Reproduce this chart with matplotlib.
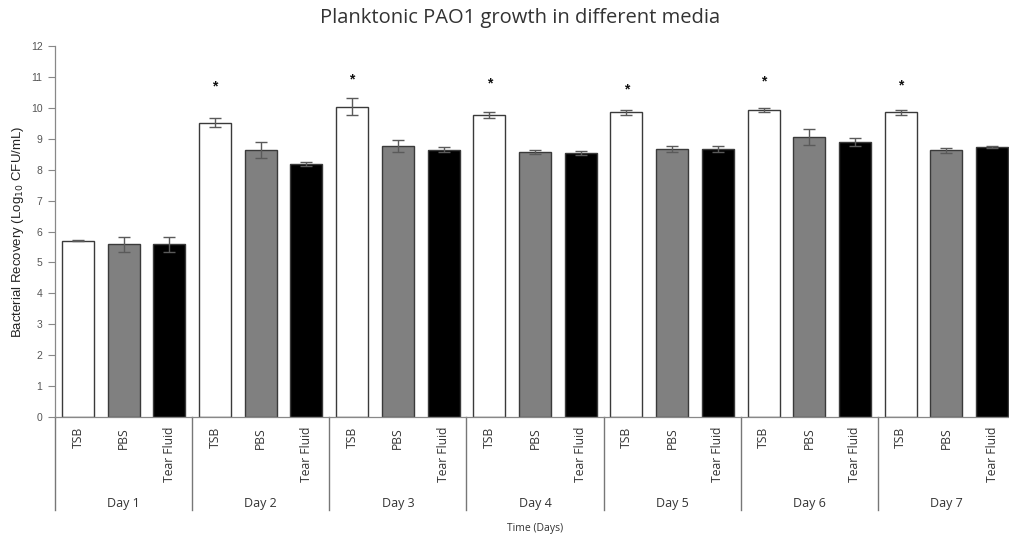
import matplotlib
matplotlib.use("Agg")
import matplotlib.pyplot as plt
import matplotlib.transforms as mtransforms

# Planktonic PAO1 recovery (log10 CFU/mL) per day and medium
days = ["Day 1", "Day 2", "Day 3", "Day 4", "Day 5", "Day 6", "Day 7"]
media = ["TSB", "PBS", "Tear Fluid"]
tsb = [5.70, 9.52, 10.04, 9.76, 9.85, 9.94, 9.85]
pbs = [5.58, 8.63, 8.77, 8.57, 8.66, 9.06, 8.62]
tear = [5.58, 8.18, 8.65, 8.54, 8.66, 8.88, 8.73]
tsb_err = [0.02, 0.15, 0.27, 0.10, 0.07, 0.06, 0.08]
pbs_err = [0.24, 0.26, 0.20, 0.05, 0.10, 0.25, 0.08]
tear_err = [0.23, 0.07, 0.08, 0.05, 0.10, 0.13, 0.03]
# heights of the significance asterisks above the TSB bars
star_y = [None, 10.80, 11.03, 10.90, 10.69, 10.94, 10.82]

fills = ["white", "#808080", "black"]
W, H = 1009, 542
fig = plt.figure(figsize=(W / 100, H / 100), dpi=100)
ax = fig.add_axes([55 / W, (H - 417) / H, (1015 - 55) / W, (417 - 46) / H])

series = [(tsb, tsb_err), (pbs, pbs_err), (tear, tear_err)]
for m, (vals, errs) in enumerate(series):
    xs = [d * 3 + m + 0.5 for d in range(len(days))]
    ax.bar(xs, vals, width=0.7, color=fills[m], edgecolor="#3a3a3a",
           linewidth=1.0, zorder=2)
    ax.errorbar(xs, vals, yerr=errs, fmt="none", ecolor="#5a5a5a",
                elinewidth=1.0, capsize=4, capthick=1.0, zorder=3)

for d, sy in enumerate(star_y):
    if sy is not None:
        ax.text(d * 3 + 0.5, sy - 0.1, "*", ha="center", va="center",
                fontsize=10, fontweight="bold", color="#111111",
                family="Liberation Sans")

ax.set_xlim(0, 3 * len(days))
ax.set_ylim(0, 12)
ax.set_yticks(range(0, 13))
ax.tick_params(axis="y", direction="out", length=5, width=0.8,
               color="#888888", labelcolor="#555555", labelsize=7.5, pad=4)
for lab in ax.get_yticklabels():
    lab.set_fontfamily("Liberation Sans")
ax.set_xticks([])
for s in ["top", "right"]:
    ax.spines[s].set_visible(False)
ax.spines["left"].set_color("#888888")
ax.spines["bottom"].set_color("#888888")
ax.spines["left"].set_linewidth(0.9)
ax.spines["bottom"].set_linewidth(0.9)

trans = mtransforms.blended_transform_factory(ax.transData, ax.transAxes)
bottom = -(510 - 417) / (417 - 46)
for d in range(len(days) + 1):
    ax.plot([d * 3, d * 3], [0, bottom], transform=trans, color="#777777",
            linewidth=1.0, clip_on=False)

lab_top = -(427 - 417) / (417 - 46)
day_y = -(503 - 417) / (417 - 46)
for d, day in enumerate(days):
    for m, name in enumerate(media):
        ax.text(d * 3 + m + 0.5, lab_top, name, transform=trans, rotation=90,
                ha="center", va="top", fontsize=8.7, color="#333333",
                family="Open Sans")
    ax.text(d * 3 + 1.5, day_y, day, transform=trans, ha="center",
            va="center", fontsize=9, color="#333333", family="Open Sans")

ax.text(0.5, -(528 - 417) / (417 - 46), "Time (Days)", transform=ax.transAxes,
        ha="center", va="center", fontsize=7.5, color="#333333",
        family="Open Sans")

fig.text(18 / W, 1 - 232 / H, "Bacterial Recovery (Log$_{10}$ CFU/mL)",
         rotation=90, ha="center", va="center", fontsize=9.5,
         color="#222222", family="Liberation Sans")

fig.text(520 / W, 1 - 18 / H, "Planktonic PAO1 growth in different media",
         ha="center", va="center", fontsize=14.5, color="#333333",
         family="Open Sans")

fig.savefig("out.png", dpi=100)
